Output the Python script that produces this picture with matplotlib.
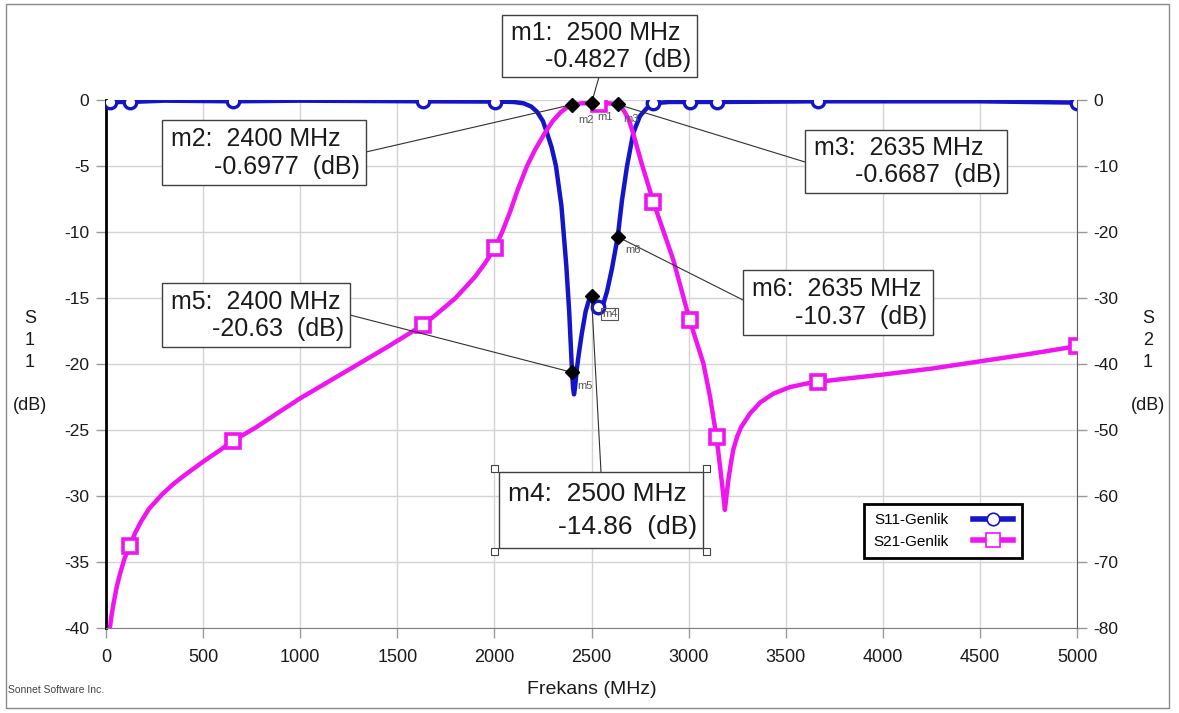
import matplotlib
matplotlib.use("Agg")
import matplotlib.pyplot as plt
from matplotlib.patches import Rectangle
from matplotlib.lines import Line2D

# ── Data ────────────────────────────────────────────────────────────────────

s11_freq = [20, 124, 300, 656, 1000, 1632, 2003, 2100, 2150, 2190, 2220, 2250, 2271,
            2295, 2317, 2345, 2370, 2385, 2400, 2405, 2410, 2415, 2425, 2435, 2450,
            2470, 2490, 2500, 2520, 2535, 2560, 2580, 2605, 2635, 2657, 2683, 2715,
            2750, 2786, 2818, 2900, 3005, 3144, 3668, 4500, 5000]
s11_db = [-0.15, -0.15, -0.05, -0.1, -0.05, -0.1, -0.12, -0.15, -0.25, -0.5, -0.9, -1.6, -2.5,
          -3.6, -5.0, -8.0, -12.5, -16.0, -20.63, -21.8, -22.3, -21.8, -20.3, -19.2, -17.7,
          -16.0, -15.0, -14.86, -15.3, -15.65, -15.5, -14.5, -12.8, -10.37, -7.6, -5.0, -2.5,
          -1.2, -0.6, -0.25, -0.15, -0.15, -0.15, -0.1, -0.1, -0.2]

s21_freq = [20, 28, 38, 55, 72, 95, 124, 150, 180, 220, 287, 350, 407, 500, 580, 656,
            767, 880, 1000, 1150, 1300, 1450, 1632, 1700, 1800, 1900, 1950, 2003, 2040,
            2080, 2120, 2168, 2210, 2260, 2300, 2340, 2370, 2400, 2450, 2500, 2540, 2590,
            2635, 2660, 2690, 2714, 2758, 2784, 2818, 2921, 3005, 3076, 3110, 3144, 3170,
            3187, 3195, 3205, 3218, 3230, 3250, 3270, 3316, 3370, 3436, 3522, 3600, 3668,
            3800, 4000, 4250, 4500, 4750, 5000]
s21_db = [-80, -78.2, -76.4, -73.8, -71.8, -69.5, -67.5, -65.6, -63.9, -62.0, -59.8, -58.1,
          -56.8, -54.8, -53.2, -51.6, -49.7, -47.5, -45.2, -42.6, -40.0, -37.4, -34.1, -32.5,
          -30.0, -26.8, -24.8, -22.4, -20.0, -17.0, -13.6, -10.0, -7.5, -5.0, -3.2, -1.9,
          -1.2, -0.6977, -0.5, -0.4827, -0.55, -0.5, -0.6687, -1.3, -2.8, -5.0, -9.6, -12.1,
          -15.4, -24.2, -33.3, -39.9, -44.9, -51.1, -57.6, -62.1, -60.0, -57.5, -55.0, -53.0,
          -51.0, -49.6, -47.5, -45.8, -44.5, -43.5, -43.0, -42.7, -42.25, -41.6, -40.7, -39.6,
          -38.5, -37.3]

# symbol positions on each trace
s11_mark_freq = [20, 124, 656, 1632, 2003, 2535, 2818, 3005, 3144, 3668, 5000]
s11_mark_db = [-0.15, -0.15, -0.1, -0.1, -0.12, -15.65, -0.25, -0.15, -0.15, -0.1, -0.2]
s21_mark_freq = [124, 656, 1632, 2003, 2540, 2818, 3005, 3144, 3668, 5000]
s21_mark_db = [-67.5, -51.6, -34.1, -22.4, -0.55, -15.4, -33.3, -51.1, -42.7, -37.3]

# probe markers: name, trace, freq, value
marker_names = ["m1", "m2", "m3", "m4", "m5", "m6"]
marker_trace = ["S21", "S21", "S21", "S11", "S11", "S11"]
marker_freq = [2500, 2400, 2635, 2500, 2400, 2635]
marker_db = [-0.4827, -0.6977, -0.6687, -14.86, -20.63, -10.37]

x_ticks = list(range(0, 5001, 500))
s11_ticks = list(range(-40, 1, 5))
s21_ticks = list(range(-80, 1, 10))

BLUE = "#1414c8"
MAGENTA = "#f014f0"
GRID = "#d4d4d4"

W, H = 1179, 713


def fx(px):
    return px / W


def fy(py):
    return 1 - py / H


plt.rcParams["font.family"] = ["Liberation Sans", "DejaVu Sans"]
plt.rcParams["axes.unicode_minus"] = False   # Sonnet prints a plain hyphen

fig = plt.figure(figsize=(W / 100, H / 100), dpi=100)
ax = fig.add_axes([fx(106), fy(628), fx(1077) - fx(106), fy(100) - fy(628)])
ax2 = ax.twinx()

# ── Traces ──────────────────────────────────────────────────────────────────
ax.plot(s11_freq, s11_db, color=BLUE, lw=3.2, solid_joinstyle="round", zorder=3)
ax.plot(s11_mark_freq, s11_mark_db, ls="none", marker="o", ms=9, mfc="white",
        mec=BLUE, mew=2.4, zorder=4)
ax2.plot(s21_freq, s21_db, color=MAGENTA, lw=3.2, solid_joinstyle="round", zorder=3)
ax2.plot(s21_mark_freq, s21_mark_db, ls="none", marker="s", ms=10, mfc="white",
         mec=MAGENTA, mew=2.6, zorder=4)

ax.set_xlim(0, 5000)
ax.set_ylim(-40, 0)
ax2.set_ylim(-80, 0)
ax.set_xticks(x_ticks)
ax.set_yticks(s11_ticks)
ax2.set_yticks(s21_ticks)

ax.grid(True, color=GRID, lw=1)
ax.set_axisbelow(True)

for a in (ax, ax2):
    a.tick_params(direction="out", length=7, width=1, color="#9a9a9a",
                  labelsize=12.5, labelcolor="#1a1a1a", pad=5)
    a.spines["top"].set_visible(False)
ax.tick_params(axis="x", pad=8, labelsize=13)
ax.spines["left"].set_linewidth(2)
ax.spines["left"].set_color("black")
ax.spines["bottom"].set_color("#808080")
ax.spines["right"].set_visible(False)
ax2.spines["left"].set_visible(False)
ax2.spines["bottom"].set_visible(False)
ax2.spines["right"].set_color("#606060")

ax.set_xlabel("Frekans (MHz)", fontsize=14, labelpad=11, color="#1a1a1a")
fig.text(fx(30), fy(362), "S\n1\n1\n\n(dB)", ha="center", va="center",
         fontsize=13, linespacing=1.36, color="#1a1a1a")
fig.text(fx(1148), fy(362), "S\n2\n1\n\n(dB)", ha="center", va="center",
         fontsize=13, linespacing=1.36, color="#1a1a1a")
fig.text(fx(8), fy(690), "Sonnet Software Inc.", ha="left", va="center",
         fontsize=7.5, color="#444444")

# ── Probe markers with callout boxes ────────────────────────────────────────
# box (left, top, right, bottom) and leader anchor on the box, in pixels
boxes = {
    "m1": ((502, 15, 697, 77), (599, 77), 18),
    "m2": ((162, 120, 366, 185), (366, 152), 18),
    "m3": ((805, 130, 1007, 193), (805, 162), 18),
    "m4": ((499, 472, 703, 548), (601, 472), 19),
    "m5": ((162, 283, 350, 347), (350, 315), 18),
    "m6": ((743, 270, 933, 335), (743, 300), 18),
}
label_offsets = {"m1": (14, -14), "m2": (14, -15), "m3": (13, -15),
                 "m4": (18, -18), "m5": (13, -14), "m6": (15, -13)}

for name, trace, f, v in zip(marker_names, marker_trace, marker_freq, marker_db):
    tr = ax2.transData if trace == "S21" else ax.transData
    (l, t, r, b), (axp, ayp), fs = boxes[name]

    ax2.annotate("", xy=(f, v), xycoords=tr,
                 xytext=(fx(axp), fy(ayp)), textcoords="figure fraction",
                 arrowprops=dict(arrowstyle="-", color="#303030", lw=0.8,
                                 shrinkA=0, shrinkB=0), zorder=6)
    ax2.plot([f], [v], transform=tr, marker="D", ms=7, color="black",
             ls="none", zorder=7, clip_on=False)

    dx, dy = label_offsets[name]
    lab_box = dict(boxstyle="square,pad=0.1", fc="none", ec="#555555", lw=0.8) \
        if name == "m4" else None
    ax2.annotate(name, xy=(f, v), xycoords=tr, xytext=(dx, dy),
                 textcoords="offset pixels", ha="center", va="center",
                 fontsize=8, color="#555555", zorder=7, bbox=lab_box)

    fig.patches.append(Rectangle((fx(l), fy(b)), fx(r) - fx(l), fy(t) - fy(b),
                                 transform=fig.transFigure, fc="white",
                                 ec="#404040", lw=1, zorder=8))
    h = b - t
    fig.text(fx(l + 9), fy(t + 0.29 * h), f"{name}:  {f} MHz", ha="left",
             va="center", fontsize=fs, color="#1a1a1a", zorder=9)
    fig.text(fx(r - 6), fy(t + 0.72 * h), f"{v:g}  (dB)", ha="right",
             va="center", fontsize=fs, color="#1a1a1a", zorder=9)

# selection handles around the m4 box
for hx, hy in [(494, 468), (706, 468), (494, 551), (706, 551)]:
    fig.patches.append(Rectangle((fx(hx - 3.5), fy(hy + 3.5)), 7 / W, 7 / H,
                                 transform=fig.transFigure, fc="white",
                                 ec="#404040", lw=0.8, zorder=9))

# ── Legend ──────────────────────────────────────────────────────────────────
handles = [
    Line2D([], [], color=BLUE, lw=4, marker="o", ms=9, mfc="white", mec=BLUE, mew=1.2),
    Line2D([], [], color=MAGENTA, lw=4, marker="s", ms=10, mfc="white", mec=MAGENTA, mew=1.2),
]
leg = ax2.legend(handles, ["S11-Genlik", "S21-Genlik"], loc="upper left",
                 bbox_to_anchor=(fx(864), fy(504)), bbox_transform=fig.transFigure,
                 borderaxespad=0, markerfirst=False, fancybox=False,
                 edgecolor="black", framealpha=1, fontsize=11,
                 handlelength=2.6, handletextpad=1.6, labelspacing=0.5,
                 borderpad=0.6)
leg.get_frame().set_linewidth(2)
leg.set_zorder(10)

# outer frame of the screenshot
fig.patches.append(Rectangle((fx(6), fy(708)), fx(1169) - fx(6), fy(4) - fy(708),
                             transform=fig.transFigure, fill=False,
                             ec="#8a8a8a", lw=1, zorder=0))

fig.savefig("out.png", dpi=100)
